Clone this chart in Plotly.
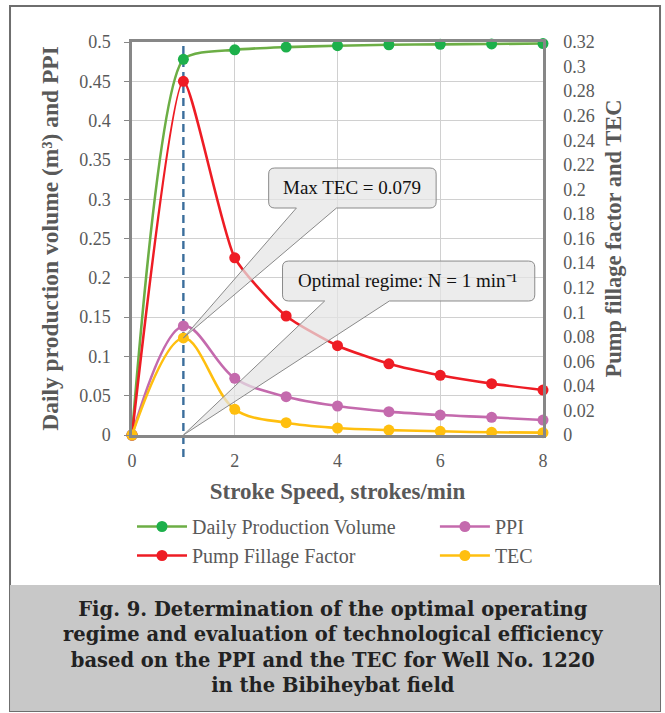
import plotly.graph_objects as go

# ---------------- data ----------------
stroke_speed = [0, 1, 2, 3, 4, 5, 6, 7, 8]
daily_volume = [0.0, 0.478, 0.490, 0.4935, 0.4953, 0.4965, 0.4970, 0.4975, 0.498]   # left axis
ppi = [0.0, 0.1387, 0.0721, 0.0487, 0.0369, 0.0297, 0.0254, 0.0225, 0.0190]           # left axis
pump_fillage = [0.0, 0.288, 0.1443, 0.0969, 0.0727, 0.0580, 0.0486, 0.0418, 0.0366]  # right axis
tec = [0.0, 0.079, 0.0209, 0.0100, 0.0057, 0.0040, 0.0030, 0.0022, 0.0019]            # right axis

optimal_n = 1
max_tec = 0.079
left_range = [0, 0.5]
right_range = [0, 0.32]

FONT = "Liberation Serif"
GRAY_TXT = "#595959"
AXIS_CLR = "#878787"

fig = go.Figure()

def add_series(name, y, yaxis, line_color, marker_color, legend, smooth):
    fig.add_trace(go.Scatter(
        x=stroke_speed, y=y, name=name, yaxis=yaxis, legend=legend,
        legendgroup=name,
        mode="lines+markers", line=dict(color=line_color, width=2.6, shape="spline", smoothing=smooth),
        marker=dict(color=marker_color, size=11), cliponaxis=False))

add_series("Daily Production Volume", daily_volume, "y", "#6cae45", "#1db04b", "legend", 0.6)
add_series("PPI", ppi, "y", "#c46aad", "#c46aad", "legend2", 1.0)
add_series("Pump Fillage Factor", pump_fillage, "y2", "#ee1c24", "#ee1c24", "legend", 0.55)
add_series("TEC", tec, "y2", "#ffbf0f", "#ffbf0f", "legend2", 1.0)

# --------------- helpers for callouts (data coords on x / left y) ---------------
ratio = left_range[1] / right_range[1]
tec_peak_left = max_tec * ratio

def callout(x0, x1, y0, y1, wb1, wb2, tipx, tipy):
    rx, ry = 0.12, 0.0077
    p = (f"M {x0+rx},{y1} L {x1-rx},{y1} Q {x1},{y1} {x1},{y1-ry} "
         f"L {x1},{y0+ry} Q {x1},{y0} {x1-rx},{y0} L {wb2},{y0} L {tipx},{tipy} "
         f"L {wb1},{y0} L {x0+rx},{y0} Q {x0},{y0} {x0},{y0+ry} L {x0},{y1-ry} "
         f"Q {x0},{y1} {x0+rx},{y1} Z")
    return dict(type="path", path=p, xref="x", yref="y", layer="above",
                fillcolor="rgba(228,228,228,0.72)", line=dict(color="#8a8a8a", width=1))

shapes = [
    # outer frame
    dict(type="rect", xref="paper", yref="paper", x0=-0.2968, x1=1.2847, y0=-0.7023, y1=1.0916,
         line=dict(color="#6e6e6e", width=2), fillcolor="rgba(0,0,0,0)", layer="below"),
    # caption background
    dict(type="rect", xref="paper", yref="paper", x0=-0.2968, x1=1.2847, y0=-0.7023, y1=-0.3817,
         line=dict(width=0), fillcolor="#c8c8c8", layer="below"),
    # optimal regime dashed line
    dict(type="line", xref="x", yref="paper", x0=optimal_n, x1=optimal_n, y0=-0.056, y1=1.0,
         line=dict(color="#3b6e9c", width=2.4, dash="8px,5px"), layer="below"),
    callout(2.66, 5.92, 0.2888, 0.3397, 3.20, 3.98, optimal_n, tec_peak_left),
    callout(2.93, 7.84, 0.1705, 0.2213, 3.75, 5.01, optimal_n, 0.0),
]

annotations = [
    dict(text="Max TEC = 0.079", x=4.29, y=0.3143, xref="x", yref="y", showarrow=False,
         font=dict(family=FONT, size=19, color="#111111")),
    dict(text="Optimal regime: N = 1 min⁻¹", x=5.38, y=0.1963, xref="x", yref="y", showarrow=False,
         font=dict(family=FONT, size=19, color="#111111")),
]
caption = ["Fig. 9. Determination of the optimal operating",
           "regime and evaluation of technological efficiency",
           "based on the PPI and the TEC for Well No. 1220",
           "in the Bibiheybat field"]
annotations.append(dict(text="<b>" + "<br>".join(caption) + "</b>", x=0.489, y=(435 - 647) / 393,
                        xref="paper", yref="paper", showarrow=False, xanchor="center", yanchor="middle",
                        align="center", font=dict(family="DejaVu Serif", size=19.5, color="#222222")))

legend_common = dict(xanchor="left", yanchor="top", orientation="v",
                     font=dict(size=20, color=GRAY_TXT), bgcolor="rgba(0,0,0,0)",
                     tracegroupgap=0, itemwidth=50)

fig.update_layout(
    width=665, height=713,
    margin=dict(l=132, r=122, t=42, b=278),
    paper_bgcolor="white", plot_bgcolor="white",
    font=dict(family=FONT, color=GRAY_TXT, size=18),
    xaxis=dict(range=[0, 8], dtick=2, showgrid=True, gridcolor="#d0d0d0", gridwidth=1,
               showline=True, linecolor=AXIS_CLR, linewidth=2.5, mirror=True, zeroline=False,
               tickfont=dict(size=18, color=GRAY_TXT), ticklabelstandoff=8,
               title=dict(text="<b>Stroke Speed, strokes/min</b>", font=dict(size=23, color=GRAY_TXT), standoff=13)),
    yaxis=dict(range=left_range, dtick=0.05, showgrid=True, gridcolor="#d0d0d0", gridwidth=1,
               showline=True, linecolor=AXIS_CLR, linewidth=2.5, zeroline=False,
               ticks="outside", ticklen=5, tickcolor=AXIS_CLR, ticklabelstandoff=10,
               tickfont=dict(size=18, color=GRAY_TXT),
               title=dict(text="<b>Daily production volume (m³) and PPI</b>", font=dict(size=23.5, color=GRAY_TXT), standoff=14)),
    yaxis2=dict(range=right_range, dtick=0.02, overlaying="y", side="right", showgrid=False,
                showline=True, linecolor=AXIS_CLR, linewidth=2.5, zeroline=False,
                tickfont=dict(size=18, color=GRAY_TXT), ticklabelstandoff=14,
                title=dict(text="<b>Pump fillage factor and TEC</b>", font=dict(size=22.5, color=GRAY_TXT), standoff=12)),
    legend=dict(x=0.0, y=(435 - 507) / 393, **legend_common),
    legend2=dict(x=0.737, y=(435 - 507) / 393, **legend_common),
    shapes=shapes,
    annotations=annotations,
)

fig.write_html("out.html")
